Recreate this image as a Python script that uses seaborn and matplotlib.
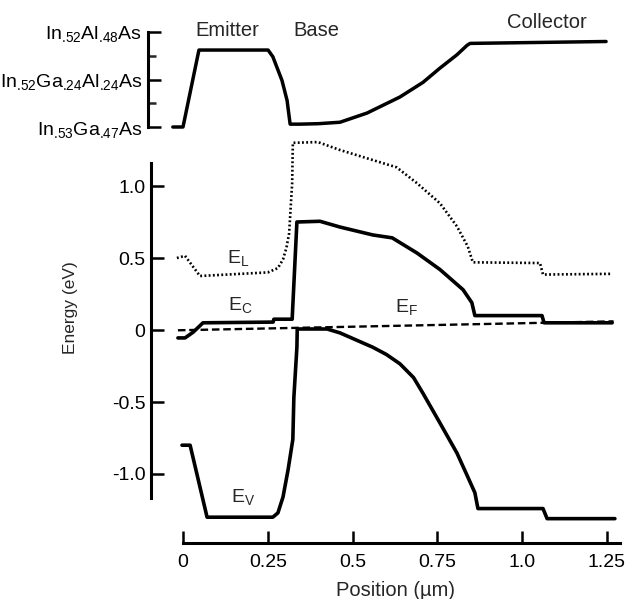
import matplotlib
matplotlib.use("Agg")
import matplotlib.pyplot as plt
import seaborn as sns

# ---------------- data ----------------
# composition profile (0 = In.53Ga.47As, 0.5 = In.52Ga.24Al.24As, 1 = In.52Al.48As)
comp_x = [-0.03, 0.0, 0.047, 0.251, 0.265, 0.292, 0.307, 0.316, 0.345, 0.40,
          0.463, 0.543, 0.64, 0.708, 0.758, 0.808, 0.838, 0.847, 1.248]
comp_y = [0.0, 0.0, 0.81, 0.81, 0.74, 0.49, 0.28, 0.03, 0.03, 0.035,
          0.05, 0.147, 0.316, 0.47, 0.62, 0.76, 0.86, 0.88, 0.90]

# L-valley band edge
EL_x = [-0.018, 0.006, 0.05, 0.25, 0.28, 0.295, 0.305, 0.313, 0.322, 0.324,
        0.398, 0.463, 0.56, 0.63, 0.69, 0.758, 0.808, 0.84, 0.855, 1.053,
        1.062, 1.266]
EL_y = [0.50, 0.515, 0.375, 0.40, 0.43, 0.49, 0.57, 0.67, 1.02, 1.30,
        1.305, 1.25, 1.18, 1.13, 1.02, 0.88, 0.72, 0.58, 0.47, 0.465,
        0.385, 0.39]

# conduction band edge
EC_x = [-0.015, 0.006, 0.03, 0.059, 0.266, 0.268, 0.322, 0.336, 0.404, 0.463,
        0.56, 0.617, 0.69, 0.758, 0.826, 0.852, 0.861, 1.059, 1.065, 1.266]
EC_y = [-0.055, -0.055, -0.015, 0.05, 0.055, 0.075, 0.075, 0.75, 0.755, 0.715,
        0.66, 0.64, 0.535, 0.42, 0.28, 0.19, 0.10, 0.10, 0.05, 0.05]

# Fermi level
EF_x = [-0.015, 1.27]
EF_y = [-0.002, 0.06]

# valence band edge
EV_x = [-0.003, 0.021, 0.071, 0.265, 0.280, 0.295, 0.310, 0.324, 0.327, 0.336,
        0.337, 0.425, 0.463, 0.56, 0.60, 0.64, 0.68, 0.708, 0.758, 0.808,
        0.84, 0.861, 0.870, 1.062, 1.074, 1.274]
EV_y = [-0.80, -0.80, -1.30, -1.30, -1.27, -1.16, -0.97, -0.76, -0.47, -0.12,
        0.007, 0.007, -0.02, -0.12, -0.17, -0.235, -0.33, -0.44, -0.646, -0.854,
        -1.02, -1.13, -1.24, -1.24, -1.31, -1.31]

comp_ticks = [0.0, 0.5, 1.0]
comp_labels = [r"$\mathregular{In_{\text{.53}}Ga_{\text{.47}}As}$",
               r"$\mathregular{In_{\text{.52}}Ga_{\text{.24}}Al_{\text{.24}}As}$",
               r"$\mathregular{In_{\text{.52}}Al_{\text{.48}}As}$"]
region_names = ["Emitter", "Base", "Collector"]
x_ticks = [0, 0.25, 0.5, 0.75, 1.0, 1.25]
x_ticklabels = ["0", "0.25", "0.5", "0.75", "1.0", "1.25"]
y_ticks = [1.0, 0.5, 0.0, -0.5, -1.0]
y_ticklabels = ["1.0", "0.5", "0", "-0.5", "-1.0"]

# ---------------- style ----------------
sns.set_style("white")
plt.rcParams["font.family"] = ["Liberation Sans", "DejaVu Sans"]
plt.rcParams["mathtext.fontset"] = "custom"
plt.rcParams["mathtext.rm"] = "Liberation Sans"
plt.rcParams["mathtext.it"] = "Liberation Sans"
plt.rcParams["axes.unicode_minus"] = False

W, H = 634, 599
fig = plt.figure(figsize=(W / 100, H / 100), dpi=100)

# ---------------- top panel: composition ----------------
t_left, t_right, t_top, t_bot = 148, 625, 20, 135
axT = fig.add_axes([t_left / W, 1 - t_bot / H, (t_right - t_left) / W, (t_bot - t_top) / H])
sns.lineplot(x=comp_x, y=comp_y, ax=axT, color="black", lw=2.5,
             sort=False, estimator=None)
axT.set_xlim((t_left - 183) / 339, (t_right - 183) / 339)
axT.set_ylim((127 - t_bot) / 95, (127 - t_top) / 95)
for s in ["top", "right", "bottom"]:
    axT.spines[s].set_visible(False)
axT.spines["left"].set_bounds(0, 1)
axT.spines["left"].set_linewidth(2.2)
axT.spines["left"].set_color("black")
axT.set_xticks([])
axT.set_yticks(comp_ticks)
axT.set_yticklabels(comp_labels)
axT.set_yticks([0.25, 0.75], minor=True)
axT.tick_params(axis="y", which="major", direction="in", length=9, width=1.8,
                pad=4, labelsize=14, colors="black", left=True)
axT.tick_params(axis="y", which="minor", direction="in", length=6, width=1.8,
                left=True)
axT.text(0.13, 1.02, region_names[0], ha="center", va="center", fontsize=14.5)
axT.text(0.393, 1.02, region_names[1], ha="center", va="center", fontsize=14.5)
axT.text(1.074, 1.105, region_names[2], ha="center", va="center", fontsize=14.5)

# ---------------- bottom panel: band diagram ----------------
b_left, b_right, b_top, b_bot = 151, 625, 140, 543
axB = fig.add_axes([b_left / W, 1 - b_bot / H, (b_right - b_left) / W, (b_bot - b_top) / H])
sns.lineplot(x=EL_x, y=EL_y, ax=axB, color="black", lw=1.9,
             linestyle=(0, (0.7, 0.9)), sort=False, estimator=None)
sns.lineplot(x=EF_x, y=EF_y, ax=axB, color="black", lw=1.7,
             linestyle=(0, (3.2, 1.6)), sort=False, estimator=None)
sns.lineplot(x=EC_x, y=EC_y, ax=axB, color="black", lw=2.6,
             sort=False, estimator=None)
sns.lineplot(x=EV_x, y=EV_y, ax=axB, color="black", lw=2.6,
             sort=False, estimator=None)
axB.set_xlim((b_left - 183) / 339, (b_right - 183) / 339)
axB.set_ylim((330 - b_bot) / 144, (330 - b_top) / 144)
for s in ["top", "right"]:
    axB.spines[s].set_visible(False)
for s in ["left", "bottom"]:
    axB.spines[s].set_linewidth(2.2)
    axB.spines[s].set_color("black")
axB.spines["left"].set_bounds(-1.167, 1.16)
axB.spines["bottom"].set_bounds(0, 1.289)
axB.set_xticks(x_ticks)
axB.set_xticklabels(x_ticklabels)
axB.set_yticks(y_ticks)
axB.set_yticklabels(y_ticklabels)
axB.tick_params(axis="both", direction="in", length=9, width=1.8,
                labelsize=14, colors="black", left=True, bottom=True)
axB.tick_params(axis="y", pad=4)
axB.tick_params(axis="x", pad=8)

axB.set_xlabel("Position (\u00b5m)", fontsize=14.5, va="center")
axB.xaxis.set_label_coords((395 - b_left) / (b_right - b_left),
                           (b_bot - 590) / (b_bot - b_top))
axB.set_ylabel("Energy (eV)", fontsize=12.5, va="center")
axB.yaxis.set_label_coords((71 - b_left) / (b_right - b_left),
                           (b_bot - 308) / (b_bot - b_top))

axB.text(0.162, 0.50, r"$\mathregular{E_L}$", ha="center", va="center", fontsize=14)
axB.text(0.168, 0.174, r"$\mathregular{E_C}$", ha="center", va="center", fontsize=14)
axB.text(0.66, 0.16, r"$\mathregular{E_F}$", ha="center", va="center", fontsize=14)
axB.text(0.177, -1.16, r"$\mathregular{E_V}$", ha="center", va="center", fontsize=14)

fig.savefig("out.png", dpi=100)
